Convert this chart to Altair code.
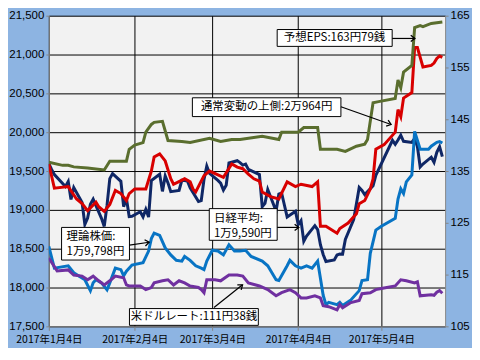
import altair as alt
import pandas as pd

# ---- series (x = days after 2017-01-04) ----
NIKKEI_DAYS = [0,1,2,6,7,8,9,12,13,14,15,16,19,20,21,22,23,26,27,
               28,29,30,33,34,35,36,37,40,41,42,43,44,47,48,49,50,51,54,55,
               56,57,58,61,62,63,64,65,68,69,70,71,72,76,77,78,79,82,83,84,85,86,
               89,90,91,92,93,96,97,98,99,100,103,104,105,106,107,110,111,112,113,114,
               117,118,124,125,126,127,128,131,132,133,134,135,138,139,140,141,142]
NIKKEI = [19594,19520,19454,19301,19364,19134,19287,19095,18813,18894,19072,19137,18891,18787,19057,19402,19467,19368,19041,
          19148,18914,18918,18976,18910,19007,18907,19378,19459,19238,19437,19347,19234,19251,19381,19379,19371,19283,19107,19118,
          19393,19564,19469,19379,19344,19254,19318,19604,19633,19609,19577,19590,19521,19455,19041,19085,19262,18985,19202,19217,19063,18909,
          18983,18810,18861,18597,18664,18797,18747,18552,18426,18335,18355,18418,18432,18430,18620,18875,19079,19289,19251,19196,
          19310,19445,19895,19843,19900,19961,19883,19869,19919,19814,19553,19590,19678,19613,19742,19813,19686]

UPPER_DAYS = [0,2,7,10,12,14,17,18,20,22,24,26,28,29,31,35,37,38,40,42,44,45,49,51,52,53,56,58,63,66,
              68,70,72,74,76,77,80,83,86,89,91,95,97,98,100,104,105,108,111,112,114,116,117,118,121,125,
              126,127,128,131,132,133,135,138,139,140,141,142]
UPPER = [19590,19280,19300,19140,19080,18990,19100,19040,18980,19070,19250,19210,19120,19210,19270,19270,19500,19680,19720,19630,
         19400,19330,19400,19360,19270,19230,19440,19500,19420,19590,19550,19530,19460,19400,19370,19230,19170,19140,19360,19300,
         19330,19300,19360,18790,18790,18700,18760,18830,18950,19080,19120,19270,19400,19780,19840,20000,20290,20200,20440,20510,
         21090,21090,20840,20860,20890,20950,20980,20964]

THEORY_DAYS = [0,2,7,9,13,15,16,17,19,21,22,24,26,27,28,30,34,36,37,38,40,42,44,46,48,49,51,53,55,56,
               57,59,61,63,65,67,69,71,73,77,79,82,83,86,87,89,91,93,95,97,99,100,101,104,105,106,109,112,113,115,
               116,118,120,125,126,127,128,129,131,132,134,137,138,140,141,142]
THEORY = [18530,18250,18280,18190,18100,17960,18060,18100,18060,17970,18060,18250,18230,18150,18210,18290,18320,18470,18630,18700,
          18670,18510,18420,18350,18340,18400,18350,18280,18250,18230,18340,18480,18470,18420,18550,18470,18470,18480,18400,18340,
          18280,18100,18090,18280,18350,18280,18250,18280,18250,18340,17900,17780,17810,17780,17810,17770,17840,17960,18090,18100,
          18440,18740,18790,18890,19140,19270,19210,19360,19450,20010,19780,19780,19820,19870,19880,19860]

EPS_DAYS = [0,5,7,9,14,20,22,28,29,31,34,35,37,38,41,43,48,51,58,62,66,69,77,83,84,90,92,97,98,104,
            107,111,114,115,117,119,125,126,127,128,131,132,134,135,138,142]
EPS = [136.7,136.1,136.1,135.8,135.6,135.2,136.9,136.9,139.2,140.0,140.5,142.5,144.0,144.4,144.6,140.9,140.7,140.5,141.3,140.7,
       141.1,141.1,141.7,141.1,142.5,142.5,143.4,143.4,139.2,139.2,138.8,139.8,140.2,141.1,148.2,148.4,149.0,152.6,151.1,154.1,
       155.4,162.7,163.1,162.9,163.5,163.79]

USD_DAYS = [0,3,7,9,12,14,16,18,20,22,24,27,28,29,33,35,37,38,41,43,45,47,49,51,54,55,56,57,60,62,
            65,68,70,72,76,79,82,84,87,89,91,93,96,98,99,101,104,105,106,109,112,113,116,118,120,125,127,129,132,133,
            134,138,139,140,141,142]
USD = [118.2,115.7,115.9,114.9,114.7,114.0,114.7,113.8,113.0,113.8,114.7,114.4,113.0,112.8,112.8,112.1,112.5,113.4,113.8,114.0,
       113.0,113.8,113.4,112.8,112.5,112.1,111.5,114.0,114.0,113.8,114.9,114.9,114.7,113.4,112.8,112.1,110.9,111.5,112.1,111.5,
       110.5,110.5,110.9,110.5,109.0,108.8,108.2,109.2,108.6,109.6,110.0,111.3,111.5,112.1,112.3,112.8,114.0,113.8,113.4,113.6,
       110.9,111.1,111.0,111.6,111.9,111.4]

LEFT_TICKS = [17500, 18000, 18500, 19000, 19500, 20000, 20500, 21000, 21500]
RIGHT_TICKS = [105, 115, 125, 135, 145, 155, 165]
TICK_DAYS = [0, 31, 59, 90, 120]

# ---- annotations (positions in chart data units) ----
BOX_LABELS = ["予想EPS:163円79銭", "通常変動の上側:2万964円", "日経平均:\n1万9,590円", "理論株価:\n1万9,798円", "米ドルレート:111円38銭"]
BOX_D1 = [82.4, 51.8, 57.9, 4.6, 29.1]
BOX_D2 = [123.9, 105.4, 82.4, 29.1, 75.6]
BOX_V1 = [21105, 20201, 18608, 18354, 17513]
BOX_V2 = [21322, 20443, 19016, 18774, 17729]
TEXT_D = [103.1, 78.6, 59.6, 6.4, 52.4]
TEXT_V = [21214, 20322, 18876, 18647, 17621]
TEXT_ALIGN = ["center", "center", "left", "left", "center"]
ARROW_D1 = [123.9, 105.4, 82.4, 29.1, 59.6]
ARROW_V1 = [21207, 20328, 18774, 18545, 17742]
ARROW_D2 = [132.1, 123.5, 90.2, 36.2, 69.9]
ARROW_V2 = [21207, 20099, 18774, 18583, 18035]
ARROW_ANGLE = [0, 19, 0, 352, 322]

NAVY = "#0F2766"
LBLUE = "#0874C4"
RED = "#D80000"
GREEN = "#5A6E2E"
PURPLE = "#7030A0"
GRAY = "#868686"
CJK = "Noto Sans CJK JP"
NUMF = "Liberation Sans"

LEFT_DOMAIN = [17500, 21500]
RIGHT_DOMAIN = [105, 165]
DAY0, DAYN = 0, 143

xscale = alt.Scale(domain=[DAY0, DAYN], nice=False, zero=False)
xaxis = alt.Axis(values=TICK_DAYS,
                 labelExpr="timeFormat(datetime(2017, 0, 4 + datum.value), '%Y年%-m月%-d日')",
                 labelFont=CJK, labelFontSize=10.5, labelColor="black",
                 labelPadding=4, tickSize=4, tickColor=GRAY, domainColor=GRAY, labelFlush=False,
                 labelOverlap=False, grid=True, gridColor="black", gridOpacity=1, gridWidth=1, title=None)
laxis = alt.Axis(values=LEFT_TICKS,
                 labelExpr="floor(datum.value / 1000) + ',' + (datum.value % 1000 == 0 ? '000' : '500')",
                 labelFont=NUMF, labelFontSize=11.5, labelColor="black",
                 labelPadding=2, tickSize=3, tickColor=GRAY, domainColor=GRAY, grid=True,
                 gridColor="black", gridOpacity=1, gridWidth=1, title=None, orient="left")
raxis = alt.Axis(values=RIGHT_TICKS, labelFont=NUMF, labelFontSize=11.5, labelColor="black",
                 labelPadding=2, tickSize=3, tickColor=GRAY, domainColor=GRAY, grid=False,
                 title=None, orient="right")


def xenc(field):
    return alt.X(field, type="quantitative", scale=xscale, axis=xaxis)


def yenc(field, domain, axis=None):
    sc = alt.Scale(domain=domain, nice=False, zero=False)
    if axis is None:
        return alt.Y(field, type="quantitative", scale=sc, axis=None)
    return alt.Y(field, type="quantitative", scale=sc, axis=axis)


def line(days, vals, color, domain, yaxis=None):
    df = pd.DataFrame({"day": days, "value": vals})
    return alt.Chart(df).mark_line(strokeWidth=3, clip=True, color=color).encode(
        x=xenc("day"), y=yenc("value", domain, yaxis))


boxes = pd.DataFrame({"x1": BOX_D1, "x2": BOX_D2, "y1": BOX_V1, "y2": BOX_V2})
texts = pd.DataFrame({"x": TEXT_D, "y": TEXT_V, "label": BOX_LABELS, "align": TEXT_ALIGN})
arrows = pd.DataFrame({"x1": ARROW_D1, "x2": ARROW_D2, "y1": ARROW_V1, "y2": ARROW_V2, "angle": ARROW_ANGLE})

box_layer = alt.Chart(boxes).mark_rect(fill="white", stroke="black", strokeWidth=1).encode(
    x=xenc("x1"), x2="x2:Q", y=yenc("y1", LEFT_DOMAIN), y2="y2:Q")


def text_layer(align):
    return alt.Chart(texts[texts["align"] == align]).mark_text(
        font=CJK, fontSize=11.5, color="black", align=align, baseline="middle", lineBreak="\n", lineHeight=15
    ).encode(x=xenc("x"), y=yenc("y", LEFT_DOMAIN), text="label:N")


rule_layer = alt.Chart(arrows).mark_rule(color="black", strokeWidth=1.2).encode(
    x=xenc("x1"), x2="x2:Q", y=yenc("y1", LEFT_DOMAIN), y2="y2:Q")
head_layer = alt.Chart(arrows).mark_point(shape="M-1,-0.75L0,0L-1,0.75", filled=False, color="black",
                                          strokeWidth=1.3, size=70, opacity=1).encode(
    x=xenc("x2"), y=yenc("y2", LEFT_DOMAIN), angle=alt.Angle("angle:Q", scale=None))

chart = alt.layer(
    line(NIKKEI_DAYS, NIKKEI, NAVY, LEFT_DOMAIN, laxis),
    line(THEORY_DAYS, THEORY, LBLUE, LEFT_DOMAIN),
    line(UPPER_DAYS, UPPER, RED, LEFT_DOMAIN),
    line(EPS_DAYS, EPS, GREEN, RIGHT_DOMAIN, raxis),
    line(USD_DAYS, USD, PURPLE, RIGHT_DOMAIN),
    box_layer, text_layer("center"), text_layer("left"), rule_layer, head_layer,
).resolve_scale(y="independent").properties(
    width=398, height=312,
    padding={"left": 0, "top": 1, "right": 2, "bottom": 2},
    background="#8DB4E2",
).configure_view(fill="#F2F2F2", stroke="transparent")

chart.save("out.html", embed_options={"renderer": "svg", "actions": False})
